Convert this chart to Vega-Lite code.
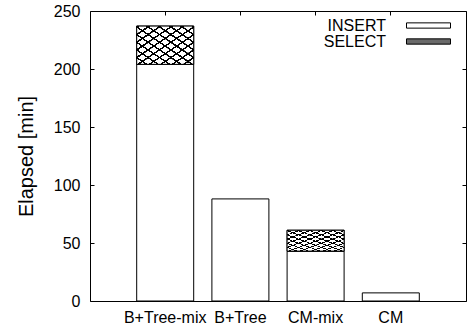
{
  "$schema": "https://vega.github.io/schema/vega-lite/v6.json",
  "width": 376,
  "height": 290,
  "autosize": "none",
  "padding": {"left": 90, "top": 11, "right": 2, "bottom": 29},
  "background": "white",
  "config": {
    "view": {"stroke": "black", "strokeWidth": 1},
    "font": "Liberation Sans",
    "axis": {"labelFont": "Liberation Sans", "titleFont": "Liberation Sans", "titleFontSize": 20, "titleFontWeight": "normal", "labelColor": "black", "titleColor": "black", "tickColor": "black", "grid": false, "domain": false},
    "legend": {"labelFont": "Liberation Sans", "labelFontSize": 16, "labelColor": "black"}
  },
  "data": {
    "values": [
      {"name": "B+Tree-mix", "phase": "INSERT", "value": 204},
      {"name": "B+Tree-mix", "phase": "SELECT", "value": 33},
      {"name": "B+Tree", "phase": "INSERT", "value": 88},
      {"name": "CM-mix", "phase": "INSERT", "value": 43},
      {"name": "CM-mix", "phase": "SELECT", "value": 18},
      {"name": "CM", "phase": "INSERT", "value": 7}
    ]
  },
  "resolve": {"axis": {"x": "independent", "y": "independent"}},
  "layer": [
    {
      "mark": {"type": "bar", "stroke": "black", "strokeWidth": 1},
      "encoding": {
        "x": {"field": "name", "type": "nominal", "sort": null,
              "scale": {"type": "band", "domain": ["B+Tree-mix", "B+Tree", "CM-mix", "CM"], "paddingInner": 0.242, "paddingOuter": 0.621},
              "axis": {"orient": "bottom", "title": null, "labelAngle": 0, "labelFontSize": 16, "tickSize": 0, "labelPadding": 8}},
        "y": {"field": "value", "type": "quantitative", "stack": "zero",
              "scale": {"domain": [0, 250], "nice": false},
              "axis": {"orient": "left", "title": "Elapsed [min]", "titleFontSize": 20, "titleFontWeight": "normal", "titleFont": "Liberation Sans", "labelFontSize": 16, "values": [0, 50, 100, 150, 200, 250], "tickSize": -4, "labelPadding": 14, "titlePadding": 17}},
        "order": {"field": "phase", "type": "nominal", "sort": "ascending"},
        "fill": {"field": "phase", "type": "nominal",
                 "scale": {"domain": ["INSERT", "SELECT"], "range": ["white", "#6a6a6a"]},
                 "legend": {"title": null, "orient": "none", "legendX": 330.5, "legendY": 6.5, "labelFontSize": 16, "labelAlign": "right", "labelOffset": -50.5,
                            "symbolType": "M-4,-0.48L4,-0.48L4,0.48L-4,0.48Z", "symbolSize": 121, "symbolStrokeColor": "black", "symbolStrokeWidth": 1, "rowPadding": 0}}
      }
    },
    {
      "mark": {"type": "bar", "strokeWidth": 0,
               "fill": {"gradient": "linear", "x1": 0, "y1": 0, "x2": 1, "y2": 1,
                        "stops": [
                          {"offset": 0, "color": "black"}, {"offset": 0.022, "color": "black"}, {"offset": 0.023, "color": "white"}, {"offset": 0.099, "color": "white"},
                          {"offset": 0.1, "color": "black"}, {"offset": 0.122, "color": "black"}, {"offset": 0.123, "color": "white"}, {"offset": 0.199, "color": "white"},
                          {"offset": 0.2, "color": "black"}, {"offset": 0.222, "color": "black"}, {"offset": 0.223, "color": "white"}, {"offset": 0.299, "color": "white"},
                          {"offset": 0.3, "color": "black"}, {"offset": 0.322, "color": "black"}, {"offset": 0.323, "color": "white"}, {"offset": 0.399, "color": "white"},
                          {"offset": 0.4, "color": "black"}, {"offset": 0.422, "color": "black"}, {"offset": 0.423, "color": "white"}, {"offset": 0.499, "color": "white"},
                          {"offset": 0.5, "color": "black"}, {"offset": 0.522, "color": "black"}, {"offset": 0.523, "color": "white"}, {"offset": 0.599, "color": "white"},
                          {"offset": 0.6, "color": "black"}, {"offset": 0.622, "color": "black"}, {"offset": 0.623, "color": "white"}, {"offset": 0.699, "color": "white"},
                          {"offset": 0.7, "color": "black"}, {"offset": 0.722, "color": "black"}, {"offset": 0.723, "color": "white"}, {"offset": 0.799, "color": "white"},
                          {"offset": 0.8, "color": "black"}, {"offset": 0.822, "color": "black"}, {"offset": 0.823, "color": "white"}, {"offset": 0.899, "color": "white"},
                          {"offset": 0.9, "color": "black"}, {"offset": 0.922, "color": "black"}, {"offset": 0.923, "color": "white"}, {"offset": 1, "color": "white"}
                        ]}},
      "encoding": {
        "x": {"field": "name", "type": "nominal", "sort": null, "axis": null},
        "y": {"field": "value", "type": "quantitative", "stack": "zero", "axis": null},
        "order": {"field": "phase", "type": "nominal", "sort": "ascending"},
        "detail": {"field": "phase", "type": "nominal"},
        "opacity": {"condition": {"test": "datum.phase === 'SELECT'", "value": 1}, "value": 0}
      }
    },
    {
      "mark": {"type": "bar", "stroke": "black", "strokeWidth": 1,
               "fill": {"gradient": "linear", "x1": 1, "y1": 0, "x2": 0, "y2": 1,
                        "stops": [
                          {"offset": 0, "color": "black"}, {"offset": 0.022, "color": "black"}, {"offset": 0.023, "color": "rgba(0,0,0,0)"}, {"offset": 0.099, "color": "rgba(0,0,0,0)"},
                          {"offset": 0.1, "color": "black"}, {"offset": 0.122, "color": "black"}, {"offset": 0.123, "color": "rgba(0,0,0,0)"}, {"offset": 0.199, "color": "rgba(0,0,0,0)"},
                          {"offset": 0.2, "color": "black"}, {"offset": 0.222, "color": "black"}, {"offset": 0.223, "color": "rgba(0,0,0,0)"}, {"offset": 0.299, "color": "rgba(0,0,0,0)"},
                          {"offset": 0.3, "color": "black"}, {"offset": 0.322, "color": "black"}, {"offset": 0.323, "color": "rgba(0,0,0,0)"}, {"offset": 0.399, "color": "rgba(0,0,0,0)"},
                          {"offset": 0.4, "color": "black"}, {"offset": 0.422, "color": "black"}, {"offset": 0.423, "color": "rgba(0,0,0,0)"}, {"offset": 0.499, "color": "rgba(0,0,0,0)"},
                          {"offset": 0.5, "color": "black"}, {"offset": 0.522, "color": "black"}, {"offset": 0.523, "color": "rgba(0,0,0,0)"}, {"offset": 0.599, "color": "rgba(0,0,0,0)"},
                          {"offset": 0.6, "color": "black"}, {"offset": 0.622, "color": "black"}, {"offset": 0.623, "color": "rgba(0,0,0,0)"}, {"offset": 0.699, "color": "rgba(0,0,0,0)"},
                          {"offset": 0.7, "color": "black"}, {"offset": 0.722, "color": "black"}, {"offset": 0.723, "color": "rgba(0,0,0,0)"}, {"offset": 0.799, "color": "rgba(0,0,0,0)"},
                          {"offset": 0.8, "color": "black"}, {"offset": 0.822, "color": "black"}, {"offset": 0.823, "color": "rgba(0,0,0,0)"}, {"offset": 0.899, "color": "rgba(0,0,0,0)"},
                          {"offset": 0.9, "color": "black"}, {"offset": 0.922, "color": "black"}, {"offset": 0.923, "color": "rgba(0,0,0,0)"}, {"offset": 1, "color": "rgba(0,0,0,0)"}
                        ]}},
      "encoding": {
        "x": {"field": "name", "type": "nominal", "sort": null, "axis": null},
        "y": {"field": "value", "type": "quantitative", "stack": "zero", "axis": null},
        "order": {"field": "phase", "type": "nominal", "sort": "ascending"},
        "detail": {"field": "phase", "type": "nominal"},
        "opacity": {"condition": {"test": "datum.phase === 'SELECT'", "value": 1}, "value": 0}
      }
    },
    {
      "mark": {"type": "bar", "opacity": 0},
      "encoding": {
        "x": {"field": "name", "type": "nominal", "sort": null,
              "axis": {"orient": "top", "title": null, "labels": false, "tickSize": -4}},
        "y": {"field": "value", "type": "quantitative", "stack": "zero",
              "axis": {"orient": "right", "title": null, "labels": false, "values": [0, 50, 100, 150, 200, 250], "tickSize": -4}},
        "detail": {"field": "phase", "type": "nominal"}
      }
    }
  ]
}
